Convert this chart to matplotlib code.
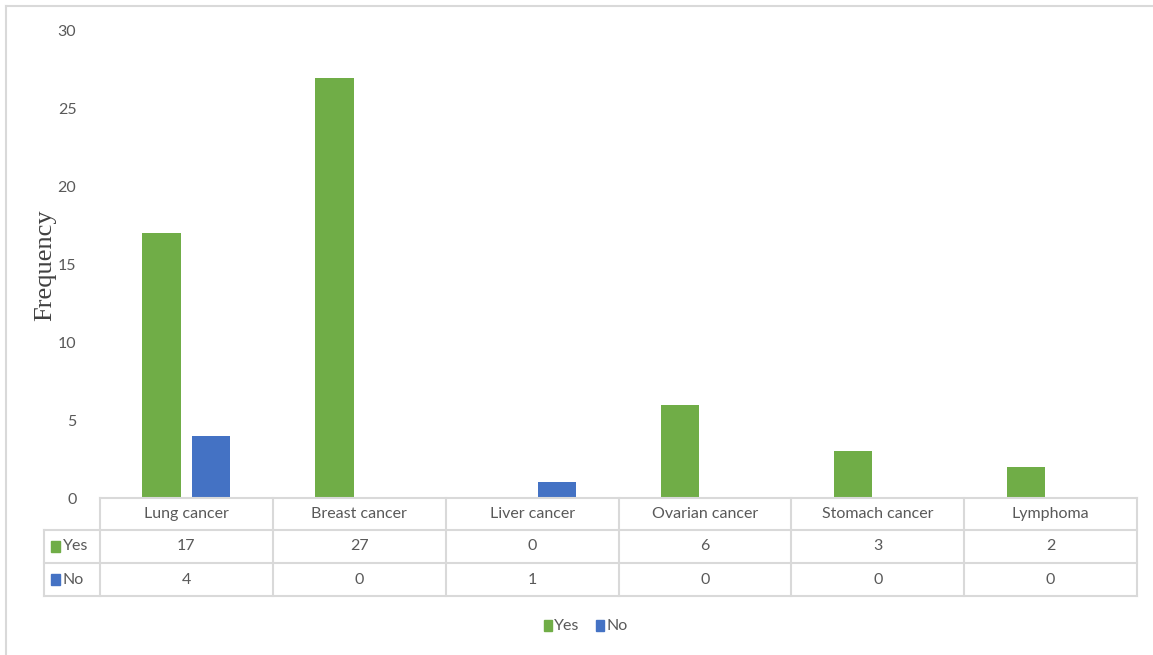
import matplotlib
matplotlib.use("Agg")
import matplotlib.pyplot as plt
from matplotlib.patches import Rectangle
import numpy as np

categories = ["Lung cancer", "Breast cancer", "Liver cancer", "Ovarian cancer", "Stomach cancer", "Lymphoma"]
yes_values = [17, 27, 0, 6, 3, 2]
no_values = [4, 0, 1, 0, 0, 0]
series_names = ["Yes", "No"]
y_ticks = [0, 5, 10, 15, 20, 25, 30]

GREEN = "#70AD47"
BLUE = "#4472C4"
TXT = "#595959"
GRID = "#D9D9D9"
FONT = "Lato"

W, H = 1153, 655
fig = plt.figure(figsize=(W / 100, H / 100), dpi=100)

def fx(px):
    return px / W

def fy(py):
    return 1 - py / H

ax_l, ax_r, ax_t, ax_b = 100, 1137, 31, 498
ax = fig.add_axes([fx(ax_l), fy(ax_b), fx(ax_r - ax_l), (ax_b - ax_t) / H])

x = np.arange(len(categories))
bw = 0.222
off = 0.144
ax.bar(x - off, yes_values, bw, color=GREEN, label=series_names[0])
ax.bar(x + off, no_values, bw, color=BLUE, label=series_names[1])
ax.set_xlim(-0.5, len(categories) - 0.5)
ax.set_ylim(0, 30)
ax.set_yticks(y_ticks)
ax.set_yticklabels([str(t) for t in y_ticks], fontsize=11.5, color=TXT, family=FONT)
ax.tick_params(axis="y", length=0, pad=17)
ax.set_xticks([])
for s in ["top", "right", "left"]:
    ax.spines[s].set_visible(False)
ax.spines["bottom"].set_color(GRID)
ax.spines["bottom"].set_linewidth(1.5)

fig.text(fx(45), fy(265), "Frequency", rotation=90, ha="center", va="center",
         fontsize=19, color="#404040", family="Liberation Serif")

# Data table drawn in figure pixel coordinates
rows_y = [498, 530, 563, 596]
col_x = [ax_l + (ax_r - ax_l) * i / len(categories) for i in range(len(categories) + 1)]
lab_l = 44
lkw = dict(color=GRID, lw=1.5, transform=fig.transFigure)
for ry in rows_y[1:]:
    fig.add_artist(plt.Line2D([fx(lab_l), fx(ax_r)], [fy(ry)] * 2, **lkw))
for cx in col_x:
    fig.add_artist(plt.Line2D([fx(cx)] * 2, [fy(rows_y[0]), fy(rows_y[3])], **lkw))
fig.add_artist(plt.Line2D([fx(lab_l)] * 2, [fy(rows_y[1]), fy(rows_y[3])], **lkw))

for i, cat in enumerate(categories):
    cx = (col_x[i] + col_x[i + 1]) / 2
    fig.text(fx(cx), fy((rows_y[0] + rows_y[1]) / 2), cat, ha="center", va="center",
             fontsize=11.5, color=TXT, family=FONT)
    fig.text(fx(cx), fy((rows_y[1] + rows_y[2]) / 2), str(yes_values[i]), ha="center", va="center",
             fontsize=11.5, color=TXT, family=FONT)
    fig.text(fx(cx), fy((rows_y[2] + rows_y[3]) / 2), str(no_values[i]), ha="center", va="center",
             fontsize=11.5, color=TXT, family=FONT)

for r, (name, col) in enumerate(zip(series_names, [GREEN, BLUE])):
    cy = (rows_y[1 + r] + rows_y[2 + r]) / 2
    fig.add_artist(Rectangle((fx(51), fy(cy + 5)), fx(9), 11 / H, color=col, transform=fig.transFigure))
    fig.text(fx(63), fy(cy), name, ha="left", va="center", fontsize=11.5, color=TXT, family=FONT)

# Bottom legend
leg_y = 626
for px, name, col in [(544, series_names[0], GREEN), (596, series_names[1], BLUE)]:
    fig.add_artist(Rectangle((fx(px), fy(leg_y + 5)), fx(8), 11 / H, color=col, transform=fig.transFigure))
    fig.text(fx(px + 10), fy(leg_y), name, ha="left", va="center", fontsize=11.5, color=TXT, family=FONT)

# Outer chart border (top and left visible)
bkw = dict(color="#D9D9D9", lw=1.5, transform=fig.transFigure)
fig.add_artist(plt.Line2D([fx(6), 1], [fy(6)] * 2, **bkw))
fig.add_artist(plt.Line2D([fx(6)] * 2, [fy(6), 0], **bkw))

fig.savefig("out.png", dpi=100, facecolor="white")
